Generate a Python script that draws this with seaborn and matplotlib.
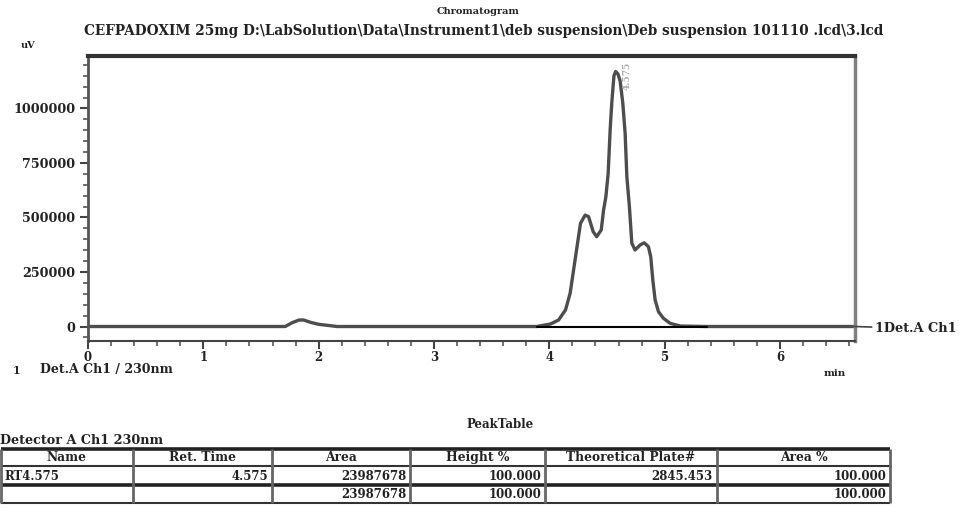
import matplotlib
matplotlib.use("Agg")
import matplotlib.pyplot as plt
import seaborn as sns
from matplotlib.ticker import MultipleLocator

# Detector A Ch1 (230 nm) trace: retention time (min) and signal (uV)
ret_time_min = [0.00, 1.71, 1.77, 1.83, 1.87, 1.93, 2.00, 2.16,
                3.89, 4.01, 4.08, 4.14, 4.18, 4.21, 4.24, 4.27, 4.31, 4.34,
                4.38, 4.41, 4.45, 4.47, 4.49, 4.51, 4.527, 4.541, 4.560,
                4.575, 4.595, 4.614, 4.637, 4.657, 4.672, 4.694, 4.715,
                4.743, 4.787, 4.822, 4.859, 4.879, 4.897, 4.917, 4.946,
                4.989, 5.047, 5.134, 5.365, 6.65]
signal_uv = [0, 0, 17500, 29800, 29800, 19000, 10000, 0,
             0, 11500, 29800, 75700, 152000, 259000, 366000, 473000, 511000, 504000,
             435000, 412000, 443000, 534000, 595000, 703000, 901000, 1024000, 1150000,
             1170000, 1158000, 1125000, 1024000, 886000, 687000, 550000, 382000,
             351000, 374000, 384000, 366000, 320000, 213000, 122000, 68000,
             37600, 14700, 2300, 0, 0]

# integration baseline under the main peak
baseline_time = [3.89, 5.365]
baseline_level = [0, 0]

peak_time = 4.575
peak_height = 1170000
peak_label = "4.575"

title_main = "Chromatogram"
title_file = r"CEFPADOXIM 25mg D:\LabSolution\Data\Instrument1\deb suspension\Deb suspension 101110 .lcd\3.lcd"
y_unit = "uV"
x_unit = "min"
channel_label = "1Det.A Ch1"
channel_legend_no = "1"
channel_legend = "Det.A Ch1 / 230nm"
table_title = "PeakTable"
table_detector = "Detector A Ch1 230nm"

y_ticks = [0, 250000, 500000, 750000, 1000000]
x_ticks = [0, 1, 2, 3, 4, 5, 6]

table_columns = ["Name", "Ret. Time", "Area", "Height %", "Theoretical Plate#", "Area %"]
table_row_peak = ["RT4.575", "4.575", "23987678", "100.000", "2845.453", "100.000"]
table_row_total = ["", "", "23987678", "100.000", "", "100.000"]

sns.set_style("ticks")
plt.rcParams["font.family"] = ["DejaVu Serif", "DejaVu Sans"]
plt.rcParams["font.weight"] = "bold"

W, H = 961, 508
fig = plt.figure(figsize=(W / 100, H / 100), dpi=100)

# overlay in pixel coordinates for header, notes and the peak table
ov = fig.add_axes([0, 0, 1, 1])
ov.set_xlim(0, W)
ov.set_ylim(H, 0)
ov.axis("off")

ax = fig.add_axes([88 / W, 1 - 341 / H, (855 - 88) / W, (341 - 56) / H])
ax.set_facecolor("none")

sns.lineplot(x=ret_time_min, y=signal_uv, ax=ax, color="#4d4d4d", lw=2.4,
             estimator=None, sort=False)
sns.lineplot(x=baseline_time, y=baseline_level, ax=ax, color="black", lw=1.5,
             estimator=None, sort=False)

ax.set_xlim(0, 6.65)
ax.set_ylim(-66500, 1240800)
ax.set_xticks(x_ticks)
ax.set_xticklabels([str(v) for v in x_ticks], fontsize=8.5)
ax.set_yticks(y_ticks)
ax.set_yticklabels([str(v) for v in y_ticks], fontsize=9.2)
ax.xaxis.set_minor_locator(MultipleLocator(0.2))
ax.yaxis.set_minor_locator(MultipleLocator(50000))
ax.tick_params(which="major", direction="out", length=6, width=1.5,
               color="#444444", labelcolor="#222222", pad=3)
ax.tick_params(axis="x", which="major", pad=1.5)
ax.tick_params(which="minor", direction="out", length=3.5, width=1.2, color="#555555")
ax.set_xlabel("")
ax.set_ylabel("")

ax.spines["top"].set(lw=3, color="#333333")
ax.spines["right"].set(lw=2.5, color="#808080")
ax.spines["left"].set(lw=2, color="#555555")
ax.spines["bottom"].set(lw=1.5, color="#444444")
for s in ax.spines.values():
    s.set_visible(True)

ax.annotate(peak_label, xy=(peak_time, peak_height), xytext=(11, -4),
            textcoords="offset pixels", rotation=90, ha="center", va="center",
            fontsize=6.5, color="#aaaaaa")

ax.annotate(channel_label, xy=(1.0, 0), xycoords=("axes fraction", "data"),
            xytext=(20, -2), textcoords="offset pixels", ha="left", va="center",
            fontsize=9.3, color="#222222", annotation_clip=False,
            arrowprops=dict(arrowstyle="-", color="#444444", lw=1.2,
                            shrinkA=0, shrinkB=0))

tc = "#222222"
ov.text(478, 11, title_main, ha="center", va="center", fontsize=7, color=tc)
ov.text(484, 31, title_file, ha="center", va="center", fontsize=9.8, color=tc)
ov.text(28, 46, y_unit, ha="center", va="center", fontsize=7, color=tc)
ov.text(835, 374, x_unit, ha="center", va="center", fontsize=7.5, color=tc)
ov.text(17, 370, channel_legend_no, ha="center", va="center", fontsize=8, color=tc)
ov.text(40, 370, channel_legend, ha="left", va="center", fontsize=9, color=tc)
ov.text(500, 424, table_title, ha="center", va="center", fontsize=8.5, color=tc)
ov.text(0, 441, table_detector, ha="left", va="center", fontsize=9.2, color=tc)

# peak table grid
col_edges = [1, 133, 272, 410, 545, 717, 890]
row_edges = [449, 466, 485, 503]
ov.hlines([row_edges[0], row_edges[2]], col_edges[0], col_edges[-1], color="#222222", lw=2.6)
ov.hlines([row_edges[1], row_edges[3]], col_edges[0], col_edges[-1], color="#333333", lw=1.5)
ov.vlines(col_edges, row_edges[0], row_edges[-1], color="#666666", lw=2)

for i, name in enumerate(table_columns):
    cx = (col_edges[i] + col_edges[i + 1]) / 2
    ov.text(cx, (row_edges[0] + row_edges[1]) / 2 + 3.5, name, ha="center",
            va="baseline", fontsize=8.8, color=tc)

for r, row in enumerate([table_row_peak, table_row_total]):
    base = row_edges[r + 2] - 5
    for i, val in enumerate(row):
        if not val:
            continue
        if i == 0:
            ov.text(col_edges[i] + 3, base, val, ha="left", va="baseline", fontsize=8.5, color=tc)
        else:
            ov.text(col_edges[i + 1] - 4, base, val, ha="right", va="baseline", fontsize=8.5, color=tc)

fig.savefig("out.png", dpi=100)
